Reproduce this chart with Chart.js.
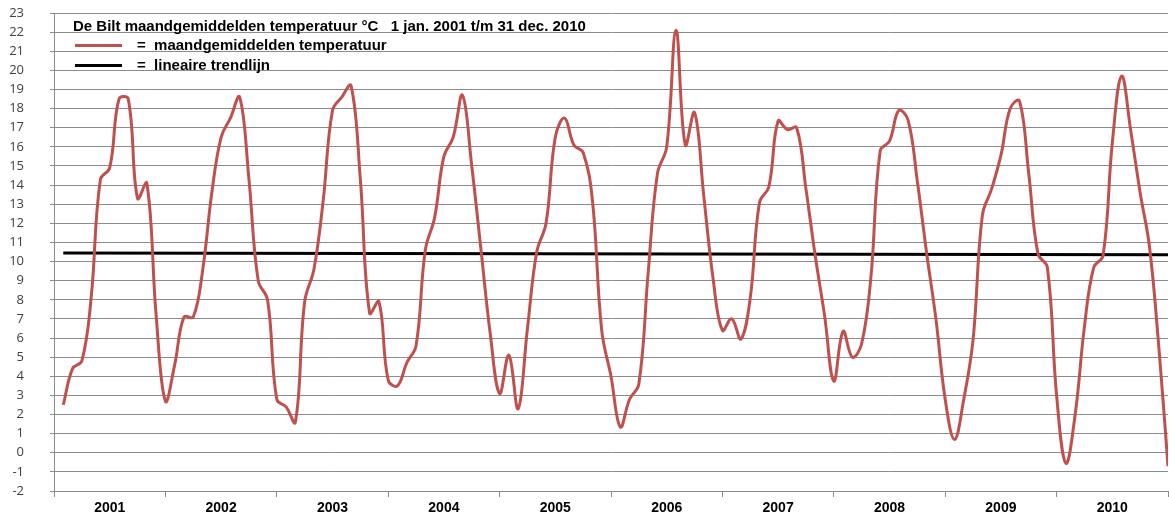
<!DOCTYPE html>
<html>
<head>
<meta charset="utf-8">
<script src="https://cdn.jsdelivr.net/npm/chart.js@4"></script>
<style>
  body { margin: 0; background: #fff; }
  #wrap { position: relative; width: 1169px; height: 515px; }
  canvas { display: block; }
  .txt { position: absolute; font-family: "Liberation Sans", Arial, sans-serif; font-weight: bold; font-size: 15px; line-height: 17px; color: #000; white-space: pre; }
  .sample { position: absolute; height: 3px; width: 47px; }
</style>
</head>
<body>
<div id="wrap">
  <canvas id="tempChart" width="1169" height="515"></canvas>
  <div class="txt" style="left:73px; top:16.5px;">De Bilt maandgemiddelden temperatuur °C   1 jan. 2001 t/m 31 dec. 2010</div>
  <div class="sample" style="left:75px; top:44px; background:#c0504d;"></div>
  <div class="txt" style="left:137px; top:35.5px;">=  maandgemiddelden temperatuur</div>
  <div class="sample" style="left:75px; top:63.5px; background:#000;"></div>
  <div class="txt" style="left:137px; top:55.5px;">=  lineaire trendlijn</div>
</div>
<script>
// tick labels on x axis (one per year, 12 months each)
const years = ['2001', '2002', '2003', '2004', '2005', '2006', '2007', '2008', '2009', '2010'];

// monthly mean temperature De Bilt, jan 2001 .. dec 2010
const temp2001 = [2.5, 4.4, 4.8, 8.1, 14.3, 14.9, 18.5, 18.5, 13.3, 14.1, 7.2, 2.7];
const temp2002 = [4.6, 7.1, 7.1, 9.5, 13.6, 16.5, 17.5, 18.6, 14.3, 9.0, 8.0, 2.8];
const temp2003 = [2.4, 1.6, 7.9, 9.6, 13.2, 17.9, 18.6, 19.2, 14.3, 7.3, 7.9, 3.8];
const temp2004 = [3.5, 4.7, 5.6, 10.6, 12.3, 15.5, 16.5, 18.7, 15.0, 10.6, 6.2, 3.1];
const temp2005 = [5.1, 2.3, 6.5, 10.5, 12.0, 16.5, 17.5, 16.1, 15.7, 13.2, 6.4, 4.0];
const temp2006 = [1.35, 2.8, 3.6, 9.4, 14.6, 16.0, 22.1, 16.1, 17.8, 13.4, 9.1, 6.4];
const temp2007 = [7.0, 5.95, 8.1, 13.1, 13.9, 17.35, 16.9, 17.0, 13.8, 10.3, 7.2, 3.75];
const temp2008 = [6.35, 5.0, 5.7, 9.2, 15.8, 16.3, 17.9, 17.4, 14.2, 10.45, 7.0, 2.8];
const temp2009 = [0.7, 2.8, 5.9, 12.4, 13.8, 15.55, 18.0, 18.4, 14.6, 10.4, 9.7, 3.0];
const temp2010 = [-0.55, 2.0, 6.6, 9.7, 10.3, 16.2, 19.7, 16.8, 13.6, 10.8, 5.6, -0.7];

// linear trend, value at first and last month
const trendStart = 10.45;
const trendEnd = 10.35;

const temps = [].concat(temp2001, temp2002, temp2003, temp2004, temp2005,
                        temp2006, temp2007, temp2008, temp2009, temp2010);
const n = temps.length;

const gridGray = '#8c8c8c';

const ctx = document.getElementById('tempChart').getContext('2d');
const chart = new Chart(ctx, {
  type: 'line',
  data: {
    datasets: [
      {
        label: 'maandgemiddelden temperatuur',
        data: temps.map((v, i) => ({ x: i, y: v })),
        borderColor: '#c0504d',
        borderWidth: 3,
        pointRadius: 0,
        tension: 0.4,
        fill: false
      },
      {
        label: 'lineaire trendlijn',
        data: [{ x: 0, y: trendStart }, { x: n - 1, y: trendEnd }],
        borderColor: '#000',
        borderWidth: 3,
        pointRadius: 0,
        fill: false
      }
    ]
  },
  options: {
    responsive: false,
    animation: false,
    layout: { padding: { top: 13, right: 1, left: 0, bottom: 0 } },
    plugins: {
      legend: { display: false },
      tooltip: { enabled: false }
    },
    scales: {
      x: {
        type: 'linear',
        min: -1,
        max: n - 1,
        afterBuildTicks: scale => {
          const t = [];
          for (let k = 0; k <= years.length; k++) {
            t.push({ value: -1 + 12 * k });
            if (k < years.length) t.push({ value: 5 + 12 * k });
          }
          scale.ticks = t;
        },
        afterFit: scale => {
          scale.height = 24;
          scale.paddingLeft = 0;
          scale.paddingRight = 0;
        },
        ticks: {
          autoSkip: false,
          maxRotation: 0,
          padding: 3,
          color: '#000',
          font: { family: 'Liberation Sans', size: 14, weight: 'bold' },
          callback: v => ((v + 1) % 12 === 0 ? '' : years[(v - 5) / 12])
        },
        grid: {
          drawOnChartArea: false,
          tickLength: 6,
          tickColor: c => ((c.tick.value + 1) % 12 === 0 ? gridGray : 'rgba(0,0,0,0)')
        },
        border: { color: gridGray }
      },
      y: {
        min: -2,
        max: 23,
        afterFit: scale => {
          scale.width = 54;
          scale.paddingTop = 0;
          scale.paddingBottom = 0;
        },
        ticks: {
          stepSize: 1,
          autoSkip: false,
          padding: 26,
          color: '#404040',
          font: { family: 'Open Sans', size: 13 }
        },
        grid: { color: gridGray, tickLength: 4 },
        border: { color: gridGray }
      }
    }
  }
});
</script>
</body>
</html>
